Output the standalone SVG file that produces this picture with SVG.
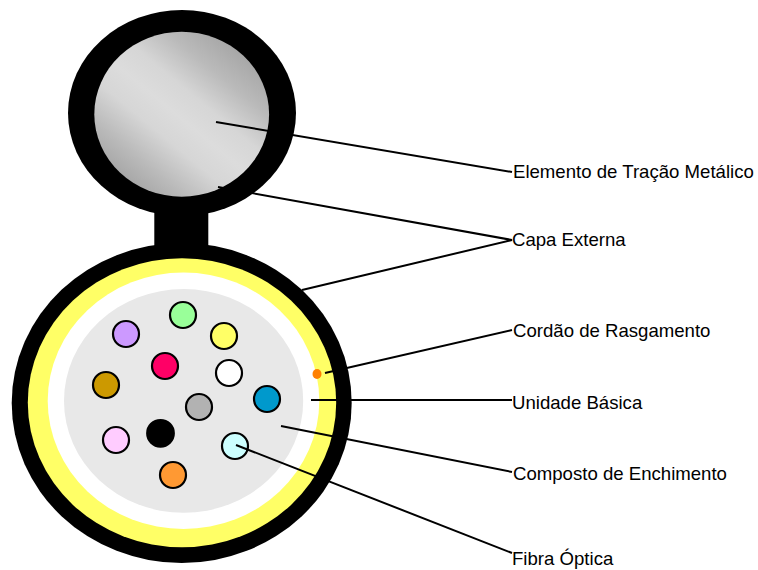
<svg xmlns="http://www.w3.org/2000/svg" width="758" height="570" viewBox="0 0 758 570">
<style>
.f{stroke:#000;stroke-width:2.200}
.c{stroke:#000;stroke-width:2;fill:none}
text{font-family:"Liberation Sans",Arial,sans-serif;font-size:18.600px;fill:#000}
</style>
<defs>
<linearGradient id="g" x1="0.85" y1="0.1" x2="0.15" y2="0.9">
<stop offset="0" stop-color="#a4a4a4"/>
<stop offset="0.2" stop-color="#bababa"/>
<stop offset="0.38" stop-color="#d6d6d6"/>
<stop offset="0.52" stop-color="#dcdcdc"/>
<stop offset="0.66" stop-color="#d6d6d6"/>
<stop offset="0.84" stop-color="#bababa"/>
<stop offset="1" stop-color="#a4a4a4"/>
</linearGradient>
</defs>
<rect width="758" height="570" fill="#fff"/>
<g id="cabo">
<rect x="154.300" y="205" width="54" height="50" fill="#000"/>
<ellipse cx="182" cy="113" rx="114" ry="103" fill="#000"/>
<ellipse cx="181.700" cy="114.200" rx="87.400" ry="82.500" fill="url(#g)"/>
<ellipse cx="181.700" cy="403" rx="170" ry="160" fill="#000"/>
<ellipse cx="182" cy="402.700" rx="154.200" ry="144.500" fill="#ffff66"/>
<ellipse cx="183.500" cy="400.800" rx="135.800" ry="128.200" fill="#fff"/>
<ellipse cx="183.600" cy="400.900" rx="119.600" ry="111.900" fill="#e8e8e8"/>
</g>
<g id="fibras">
<circle id="f1" class="f" cx="183" cy="315" r="13" fill="#99ff99"/>
<circle id="f2" class="f" cx="126" cy="334" r="13" fill="#cc99ff"/>
<circle id="f3" class="f" cx="224" cy="336" r="13" fill="#ffff66"/>
<circle id="f4" class="f" cx="165" cy="366" r="13" fill="#ff0066"/>
<circle id="f5" class="f" cx="229" cy="373" r="13" fill="#fff"/>
<circle id="f6" class="f" cx="106" cy="385" r="13" fill="#cc9900"/>
<circle id="f7" class="f" cx="199" cy="407" r="13" fill="#b2b2b2"/>
<circle id="f8" class="f" cx="267" cy="399" r="13" fill="#0099cc"/>
<circle id="f9" class="f" cx="116" cy="440" r="13" fill="#ffccff"/>
<circle id="f10" class="f" cx="160.500" cy="433.300" r="13.300" fill="#000"/>
<circle id="f11" class="f" cx="235" cy="446" r="13" fill="#ccffff"/>
<circle id="f12" class="f" cx="173" cy="475" r="13" fill="#ff9933"/>
<ellipse id="rasgamento" cx="317" cy="374" rx="4.500" ry="5" fill="#ff8000"/>
</g>
<g id="conectores">
<path class="c" d="M216 122L512 172"/>
<path class="c" d="M218 187L512 240L302 290"/>
<path class="c" d="M325 373L512 330"/>
<path class="c" d="M311 400H512"/>
<path class="c" d="M281 426L512 472"/>
<path class="c" d="M236 445L512 553"/>
</g>
<g id="rotulos">
<text x="513" y="178">Elemento de Tração Metálico</text>
<text x="512" y="245.500">Capa Externa</text>
<text x="513" y="337">Cordão de Rasgamento</text>
<text x="512" y="409">Unidade Básica</text>
<text x="513" y="479.500">Composto de Enchimento</text>
<text x="512" y="565">Fibra Óptica</text>
</g>
</svg>
